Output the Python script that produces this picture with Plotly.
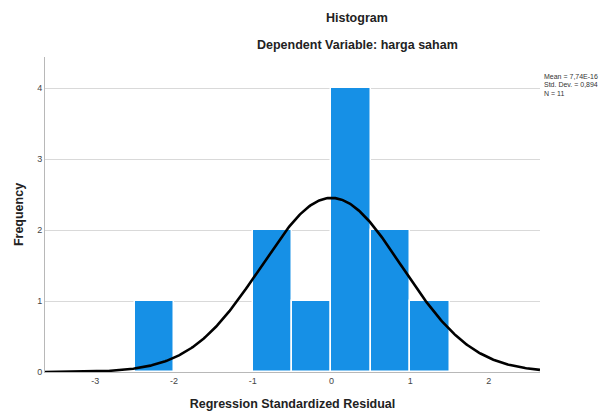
import numpy as np
import plotly.graph_objects as go

# Data
bin_left = [-2.5, -1.0, -0.5, 0.0, 0.5, 1.0]
counts = [1, 2, 1, 4, 2, 1]
bin_width = 0.5
mean_val = 7.74e-16
std_dev = 0.894
n_obs = 11
stats_lines = ["Mean = 7,74E-16", "Std. Dev. = 0,894", "N = 11"]
x_ticks = [-3, -2, -1, 0, 1, 2]
x_tick_labels = ["-3", "-2", "-1", "0", "1", "2"]
y_ticks = [0, 1, 2, 3, 4]

x_range = [-3.64, 2.65]
y_range = [0, 4.44]

font_family = "Arial, Liberation Sans, sans-serif"

fig = go.Figure()
fig.add_trace(go.Bar(
    x=[b + bin_width / 2 for b in bin_left],
    y=counts,
    width=bin_width,
    marker=dict(color="#1690e6", line=dict(color="white", width=1.5)),
    hoverinfo="skip",
))

xs = np.linspace(x_range[0], x_range[1], 400)
ys = n_obs * bin_width / (std_dev * np.sqrt(2 * np.pi)) * np.exp(-0.5 * ((xs - mean_val) / std_dev) ** 2)
fig.add_trace(go.Scatter(x=xs, y=ys, mode="lines", line=dict(color="black", width=2.6), hoverinfo="skip"))

# page body has an 8px default margin, so the figure is 8px smaller and offset
fig.update_layout(
    width=605, height=408,
    margin=dict(l=37, r=73, t=49, b=44, autoexpand=False),
    paper_bgcolor="white", plot_bgcolor="white",
    showlegend=False,
    font=dict(family=font_family, color="#333333"),
    bargap=0,
    xaxis=dict(range=x_range, tickvals=x_ticks, ticktext=x_tick_labels, showgrid=False, zeroline=False,
               showline=True, linecolor="#b8b8b8", linewidth=1, automargin=False,
               ticks="", tickfont=dict(size=9, color="#444444"),
               title=dict(text="<b>Regression Standardized Residual</b>", font=dict(size=12.5, color="#222222"), standoff=14)),
    yaxis=dict(range=y_range, tickvals=y_ticks, showgrid=True, gridcolor="#d9d9d9", gridwidth=1.2,
               zeroline=False, showline=True, linecolor="#b8b8b8", linewidth=1, automargin=False,
               ticks="", tickfont=dict(size=9, color="#444444"),
               title=dict(text="<b>Frequency</b>", font=dict(size=12.5, color="#222222"), standoff=10)),
)

fig.add_annotation(text="<b>Histogram</b>", xref="paper", yref="paper",
                   x=(357 - 45) / 495, y=1 + (57 - 18) / 315, showarrow=False,
                   font=dict(size=12.5, color="#222222"), xanchor="center", yanchor="middle")
fig.add_annotation(text="<b>Dependent Variable: harga saham</b>", xref="paper", yref="paper",
                   x=(357 - 45) / 495, y=1 + (57 - 45) / 315, showarrow=False,
                   font=dict(size=12.5, color="#222222"), xanchor="center", yanchor="middle")

for i, line in enumerate(stats_lines):
    fig.add_annotation(text=line, xref="paper", yref="paper",
                       x=(542 - 45) / 495, y=1 - (76 + 8.5 * i - 57) / 315,
                       showarrow=False, xanchor="left", yanchor="middle",
                       font=dict(size=7, color="#333333"))

fig.write_html("out.html")
